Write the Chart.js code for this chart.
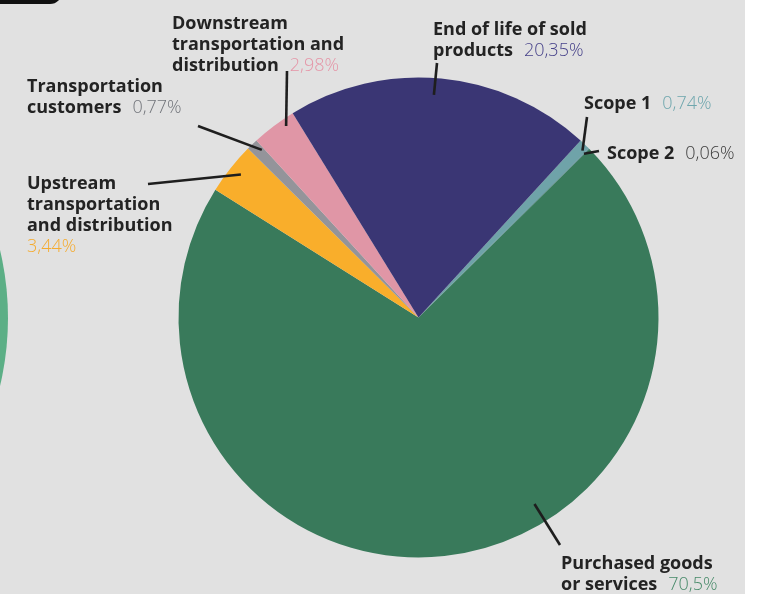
<!DOCTYPE html>
<html>
<head>
<meta charset="utf-8">
<script src="https://cdn.jsdelivr.net/npm/chart.js@4.4.1/dist/chart.umd.min.js"></script>
<style>
  body { margin: 0; background: #ffffff; }
  #wrap { position: relative; width: 763px; height: 594px; overflow: hidden; }
  #bg { position: absolute; left: 0; top: 0; width: 745px; height: 594px; background: #e1e1e1; }
  #tab { position: absolute; left: -10px; top: -20px; width: 72px; height: 24px; background: #111; border-radius: 0 0 12px 0; }
  #bubble { position: absolute; left: -578px; top: 25px; width: 586px; height: 586px; border-radius: 50%; background: #5caf86; }
  canvas { position: absolute; left: 0; top: 0; }
</style>
</head>
<body>
<div id="wrap">
  <div id="bg"></div>
  <div id="tab"></div>
  <div id="bubble"></div>
  <canvas id="myChart" width="763" height="594"></canvas>
</div>
<script>
// scope 3 emissions breakdown, in %
const categories = ['Scope 1', 'Scope 2', 'Purchased goods\nor services', 'Upstream\ntransportation\nand distribution',
    'Transportation\ncustomers', 'Downstream\ntransportation and\ndistribution', 'End of life of sold\nproducts'];
const values = [0.74, 0.06, 70.5, 3.44, 0.77, 2.98, 20.35];
const colors = ['#6fa3a9', '#4f8790', '#397a5b', '#f9ae2b', '#94949a', '#e096a6', '#3a3674'];
const pctColors = ['#6ea6ad', '#3c3c3c', '#478a69', '#f5ab2e', '#72757b', '#e595a7', '#47428a'];

// label layout: text x / first baseline, where the leader starts (fraction along the arc, fraction of radius)
// and where it ends outside, pctOwnLine puts the value under the text
const labelPos = [
    {x: 584, y: 109, t: 0.74, r: 0.975, ox: 587, oy: 117},
    {x: 607, y: 159, t: 0.5, r: 0.97, ox: 599, oy: 151},
    {x: 561, y: 569, t: 0.40, r: 0.915, ox: 560, oy: 545},
    {x: 27, y: 189, t: 0.53, r: 0.95, ox: 148, oy: 184, pctOwnLine: true},
    {x: 27, y: 92, t: 0.79, r: 0.956, ox: 198, oy: 126},
    {x: 172, y: 29, t: 0.72, r: 0.97, ox: 287, oy: 71},
    {x: 433, y: 35, t: 0.48, r: 0.93, ox: 437, oy: 63}
];

function fmt(v) {
    return v.toString().replace('.', ',') + '%';
}

const labelPlugin = {
    id: 'labels',
    afterDraw(chart) {
        const ctx = chart.ctx;
        const arcs = chart.getDatasetMeta(0).data;
        ctx.save();
        for (let i = 0; i < arcs.length; i++) {
            const a = arcs[i];
            const p = labelPos[i];
            const ang = a.startAngle + (a.endAngle - a.startAngle) * p.t;
            const ix = a.x + Math.cos(ang) * a.outerRadius * p.r;
            const iy = a.y + Math.sin(ang) * a.outerRadius * p.r;
            ctx.strokeStyle = '#1e1e1e';
            ctx.lineWidth = 2.6;
            ctx.beginPath();
            ctx.moveTo(ix, iy);
            ctx.lineTo(p.ox, p.oy);
            ctx.stroke();

            const lines = categories[i].split('\n');
            ctx.textBaseline = 'alphabetic';
            ctx.textAlign = 'left';
            let y = p.y;
            let lastW = 0;
            for (let j = 0; j < lines.length; j++) {
                ctx.font = 'bold 18px "Open Sans"';
                ctx.fillStyle = '#232323';
                ctx.fillText(lines[j], p.x, y);
                lastW = ctx.measureText(lines[j]).width;
                if (j < lines.length - 1) y += 21;
            }
            ctx.font = '300 18px "Open Sans"';
            ctx.fillStyle = pctColors[i];
            if (p.pctOwnLine) {
                ctx.fillText(fmt(values[i]), p.x, y + 21);
            } else {
                ctx.fillText(fmt(values[i]), p.x + lastW + 11, y);
            }
        }
        ctx.restore();
    }
};

new Chart(document.getElementById('myChart'), {
    type: 'pie',
    data: {
        labels: categories,
        datasets: [{
            data: values,
            backgroundColor: colors,
            borderWidth: 0
        }]
    },
    options: {
        responsive: false,
        animation: false,
        rotation: 42.5,
        layout: {
            padding: {left: 178.5, right: 104.5, top: 77.5, bottom: 36.5}
        },
        plugins: {
            legend: {display: false},
            tooltip: {enabled: false}
        }
    },
    plugins: [labelPlugin]
});
</script>
</body>
</html>
